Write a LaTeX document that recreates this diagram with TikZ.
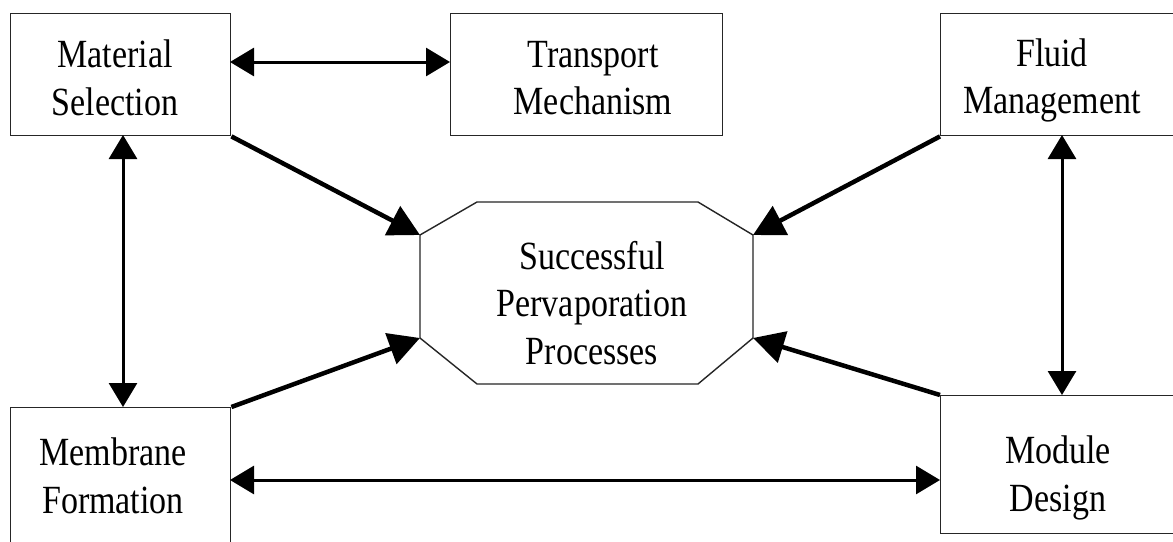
\documentclass[tikz,border=0pt]{standalone}
\usepackage{fontspec}
\setmainfont{Liberation Serif}[FakeStretch=0.85]
\usetikzlibrary{arrows.meta}
\begin{document}
\begin{tikzpicture}[x=1pt,y=-1pt,
  box/.style={draw=black!85, line width=1.4pt, fill=white, inner sep=0pt, anchor=north west},
  lbl/.style={font=\fontsize{40}{47.5}\selectfont, align=center, inner sep=0pt},
  thinarr/.style={line width=3pt, {Triangle[length=24pt,width=28pt]}-{Triangle[length=24pt,width=28pt]}},
  thickarr/.style={line width=4.5pt, -{Triangle[length=31pt,width=32pt]}}]
\clip (0,0) rectangle (1173,541);
\fill[white] (0,0) rectangle (1173,541);
% boxes
\node[box, minimum width=220pt, minimum height=122pt] (ms) at (10,13) {};
\node[box, minimum width=272pt, minimum height=122pt] (tm) at (450,13) {};
\node[box, minimum width=260pt, minimum height=122pt] (fm) at (940,13) {};
\node[box, minimum width=220pt, minimum height=160pt] (mf) at (10,407) {};
\node[box, minimum width=260pt, minimum height=138pt] (md) at (940,395) {};
% octagon
\coordinate (oUL) at (420,235);
\coordinate (oLL) at (420,338);
\coordinate (oUR) at (753,235);
\coordinate (oLR) at (753,338);
\draw[draw=black!85, line width=1.4pt, fill=white]
  (477,202) -- (698,202) -- (oUR) -- (oLR) -- (698,384) -- (477,384) -- (oLL) -- (oUL) -- cycle;
% labels
\node[lbl] (msl) at (115,78) {Material\\Selection};
\node[lbl] (tml) at (593,78) {Transport\\Mechanism};
\node[lbl] (fml) at (1052,80.5) {Fluid\\Management};
\node[lbl] (oct) at (592,303) {Successful\\Pervaporation\\Processes};
\node[lbl] (mfl) at (113,476) {Membrane\\Formation};
\node[lbl] (mdl) at (1058,478) {Module\\Design};
% connectors
\coordinate (msR) at (230,62);
\coordinate (tmL) at (450,62);
\draw[thinarr] (msR) -- (tmL);
\coordinate (msB) at (123,135);
\coordinate (mfT) at (123,407);
\draw[thinarr] (msB) -- (mfT);
\coordinate (fmB) at (1062,135);
\coordinate (mdT) at (1062,395);
\draw[thinarr] (fmB) -- (mdT);
\coordinate (mfR) at (230,480);
\coordinate (mdL) at (940,480);
\draw[thinarr] (mfR) -- (mdL);
\draw[thickarr] (ms.south east) -- (oUL);
\draw[thickarr] (fm.south west) -- (oUR);
\draw[thickarr] (mf.north east) -- (oLL);
\draw[thickarr] (md.north west) -- (oLR);
\end{tikzpicture}
\end{document}
